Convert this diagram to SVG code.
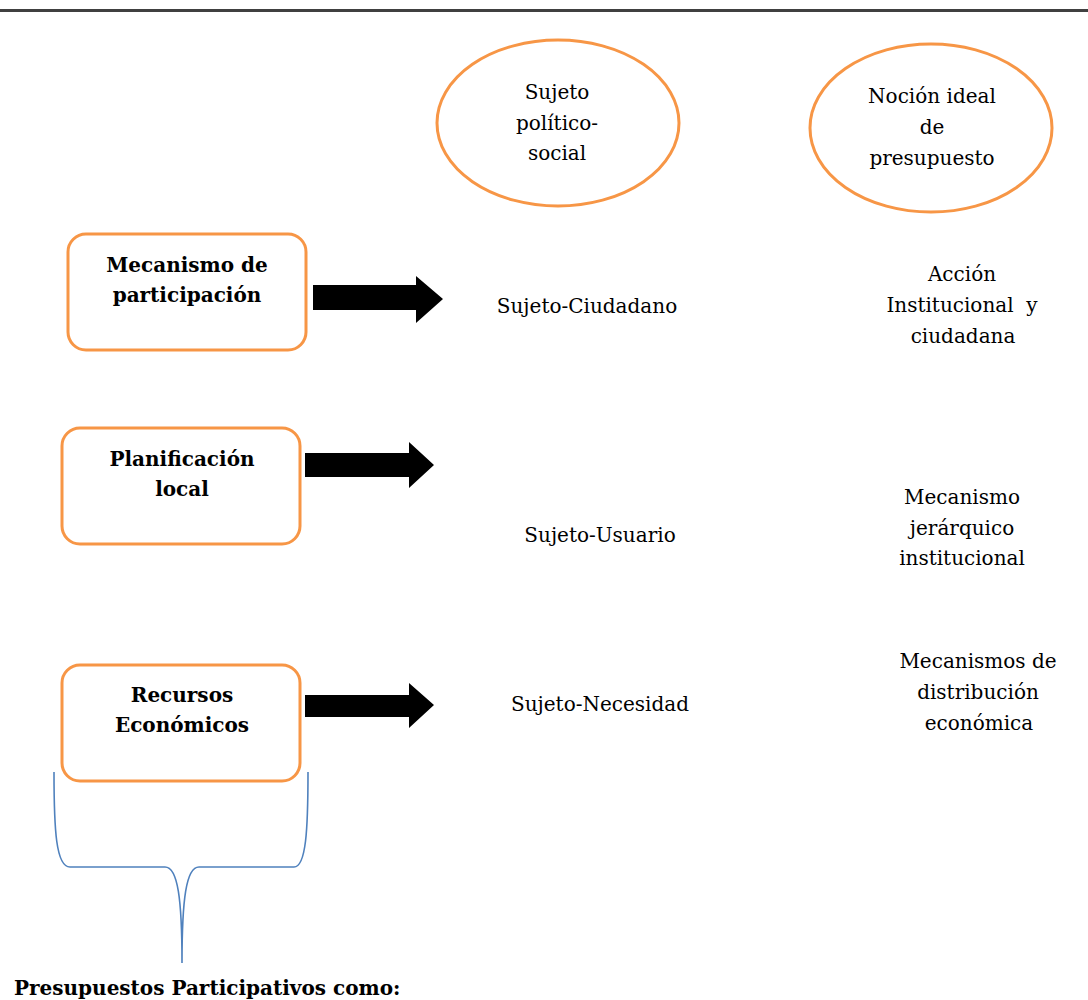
<svg xmlns="http://www.w3.org/2000/svg" width="1088" height="1000" viewBox="0 0 1088 1000">
  <style>
    .box { fill: #ffffff; stroke: #F79646; stroke-width: 3; }
    .oval { fill: #ffffff; stroke: #F79646; stroke-width: 3; }
    .t { font-family: "DejaVu Serif", "Liberation Serif", serif; font-size: 20px; fill: #000000; text-anchor: middle; }
    .b { font-family: "DejaVu Serif", "Liberation Serif", serif; font-size: 20px; font-weight: bold; fill: #000000; text-anchor: middle; }
    .arrow { fill: #000000; }
    .brace { fill: none; stroke: #4F81BD; stroke-width: 1.6; }
  </style>

  <!-- page rule -->
  <rect x="0" y="9" width="1088" height="3" fill="#404040"/>

  <!-- column headers -->
  <g id="sujeto-politico-social">
    <ellipse class="oval" cx="558" cy="123" rx="121" ry="83"/>
    <text class="t" x="557" y="99">Sujeto</text>
    <text class="t" x="557" y="130">político-</text>
    <text class="t" x="557" y="160">social</text>
  </g>
  <g id="nocion-ideal">
    <ellipse class="oval" cx="931" cy="128" rx="121" ry="84"/>
    <text class="t" x="932" y="103">Noción ideal</text>
    <text class="t" x="932" y="134">de</text>
    <text class="t" x="932" y="165">presupuesto</text>
  </g>

  <!-- left column boxes -->
  <g id="mecanismo-participacion">
    <rect class="box" x="68" y="234" width="238" height="116" rx="18"/>
    <text class="b" x="187" y="272">Mecanismo de</text>
    <text class="b" x="187" y="302">participación</text>
  </g>
  <g id="planificacion-local">
    <rect class="box" x="62" y="428" width="238" height="116" rx="18"/>
    <text class="b" x="182" y="466">Planificación</text>
    <text class="b" x="182" y="496">local</text>
  </g>
  <g id="recursos-economicos">
    <rect class="box" x="62" y="665" width="238" height="116" rx="18"/>
    <text class="b" x="182" y="702">Recursos</text>
    <text class="b" x="182" y="732">Económicos</text>
  </g>

  <!-- middle column -->
  <g id="sujeto-ciudadano">
    <text class="t" x="587" y="313">Sujeto-Ciudadano</text>
  </g>
  <g id="sujeto-usuario">
    <text class="t" x="600" y="542">Sujeto-Usuario</text>
  </g>
  <g id="sujeto-necesidad">
    <text class="t" x="600" y="711">Sujeto-Necesidad</text>
  </g>

  <!-- right column -->
  <g id="accion-institucional">
    <text class="t" x="962" y="281">Acción</text>
    <text class="t" x="962" y="312" xml:space="preserve">Institucional  y</text>
    <text class="t" x="963" y="343">ciudadana</text>
  </g>
  <g id="mecanismo-jerarquico">
    <text class="t" x="962" y="504">Mecanismo</text>
    <text class="t" x="962" y="535">jerárquico</text>
    <text class="t" x="962" y="565">institucional</text>
  </g>
  <g id="mecanismos-distribucion">
    <text class="t" x="978" y="668">Mecanismos de</text>
    <text class="t" x="978" y="699">distribución</text>
    <text class="t" x="979" y="730">económica</text>
  </g>

  <!-- block arrows and grouping brace -->
  <g id="connectors">
    <polygon class="arrow" points="313,285 416,285 416,276 443,299 416,323 416,310 313,310"/>
    <polygon class="arrow" points="305,453 409,453 409,442 434,465 409,488 409,477 305,477"/>
    <polygon class="arrow" points="305,695 409,695 409,683 434,705 409,728 409,717 305,717"/>
    <path class="brace" d="M54,772 C54,830 56,867 70,867 L165,867 C178,867 182,900 182,963 C182,900 186,867 199,867 L294,867 C306,867 308,830 308,772"/>
  </g>

  <text class="b" x="14" y="995" style="text-anchor:start">Presupuestos Participativos como:</text>
</svg>
